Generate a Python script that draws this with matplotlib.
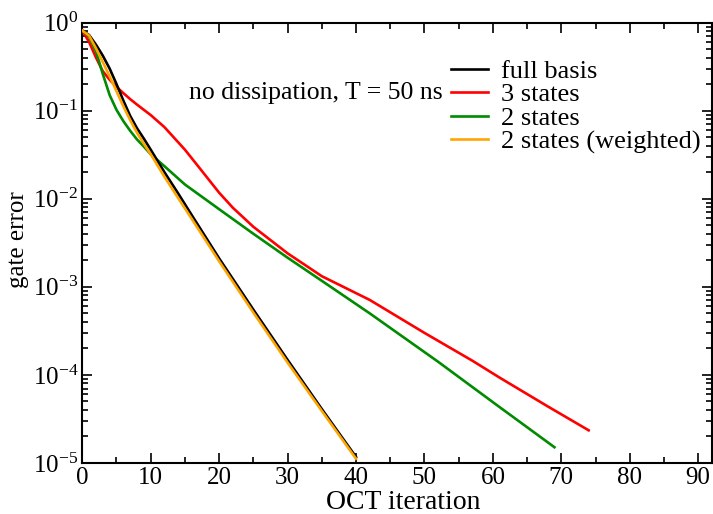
import matplotlib
matplotlib.use("Agg")
import matplotlib.pyplot as plt
from matplotlib.ticker import LogLocator, MultipleLocator, LogFormatterSciNotation

# gate error vs OCT iteration
iter_full = [0, 1, 2, 3, 4, 5, 6, 7, 8, 9, 10, 12, 14, 16, 20, 25, 30, 35, 40]
err_full = [0.81, 0.72, 0.56, 0.42, 0.30, 0.20, 0.13, 0.087, 0.063, 0.048, 0.036,
            0.020, 0.0115, 0.0065, 0.0021, 5.5e-4, 1.48e-4, 4.1e-5, 1.17e-5]

iter_3 = [0, 1, 2, 3, 4, 5, 6, 7, 8, 9, 10, 12, 15, 17, 20, 22, 25, 30, 35, 42,
          50, 57, 61, 68, 74]
err_3 = [0.81, 0.60, 0.40, 0.28, 0.224, 0.186, 0.158, 0.135, 0.117, 0.102, 0.089,
         0.065, 0.036, 0.023, 0.0117, 0.0079, 0.0048, 0.0024, 0.00132, 7.1e-4,
         3.0e-4, 1.45e-4, 9.3e-5, 4.4e-5, 2.35e-5]

iter_2 = [0, 1, 2, 3, 4, 5, 6, 7, 8, 9, 10, 12, 15, 20, 25, 30, 35, 42, 52, 61, 69]
err_2 = [0.81, 0.69, 0.47, 0.26, 0.15, 0.102, 0.076, 0.059, 0.047, 0.039, 0.032,
         0.0234, 0.0145, 0.0076, 0.0040, 0.00214, 0.00117, 5.0e-4, 1.41e-4,
         4.3e-5, 1.51e-5]

iter_2w = [0, 1, 2, 3, 4, 5, 6, 7, 8, 9, 10, 12, 14, 16, 20, 25, 30, 35, 40]
err_2w = [0.81, 0.71, 0.51, 0.355, 0.245, 0.166, 0.112, 0.078, 0.056, 0.042, 0.032,
          0.0178, 0.0102, 0.0059, 0.00195, 5.1e-4, 1.38e-4, 3.9e-5, 1.12e-5]

plt.rcParams['font.family'] = ['Liberation Serif', 'DejaVu Serif']
plt.rcParams['mathtext.fontset'] = 'stix'

fig = plt.figure(figsize=(7.13, 5.14), dpi=100)
ax = fig.add_axes([0.1154, 0.0992, 0.883, 0.857])

lw = 1.9
ax.plot(iter_full, err_full, color='black', lw=lw, label='full basis', zorder=4)
ax.plot(iter_3, err_3, color='#ff0000', lw=lw, label='3 states', zorder=3)
ax.plot(iter_2, err_2, color='#008b00', lw=lw, label='2 states', zorder=3)
ax.plot(iter_2w, err_2w, color='#ffa500', lw=lw, label='2 states (weighted)', zorder=5)

ax.set_yscale('log')
ax.set_xlim(0, 92)
ax.set_ylim(1e-5, 1)
ax.xaxis.set_major_locator(MultipleLocator(10))
ax.xaxis.set_minor_locator(MultipleLocator(5))
ax.yaxis.set_major_locator(LogLocator(base=10, numticks=10))
ax.yaxis.set_minor_locator(LogLocator(base=10, subs=range(2, 10), numticks=10))
ax.yaxis.set_major_formatter(LogFormatterSciNotation())

ax.tick_params(which='both', direction='in', top=True, right=True, width=1.2,
               labelsize=18)
ax.tick_params(which='major', length=7.5, pad=3)
ax.tick_params(which='minor', length=4)
for s in ax.spines.values():
    s.set_linewidth(1.5)

ax.set_xlabel('OCT iteration', fontsize=20)
ax.xaxis.set_label_coords(0.51, -0.062)
ax.set_ylabel('gate error', fontsize=18)
ax.yaxis.set_label_coords(-0.085, 0.506)

ax.text(0.573, 0.84, 'no dissipation, T = 50 ns', transform=ax.transAxes,
        ha='right', va='center', fontsize=18.5)
ax.legend(loc='upper left', bbox_to_anchor=(0.586, 0.916), frameon=False,
          borderpad=0, borderaxespad=0, handlelength=1.4, handletextpad=0.5,
          labelspacing=0.0, fontsize=19)

fig.savefig('out.png', dpi=100)
